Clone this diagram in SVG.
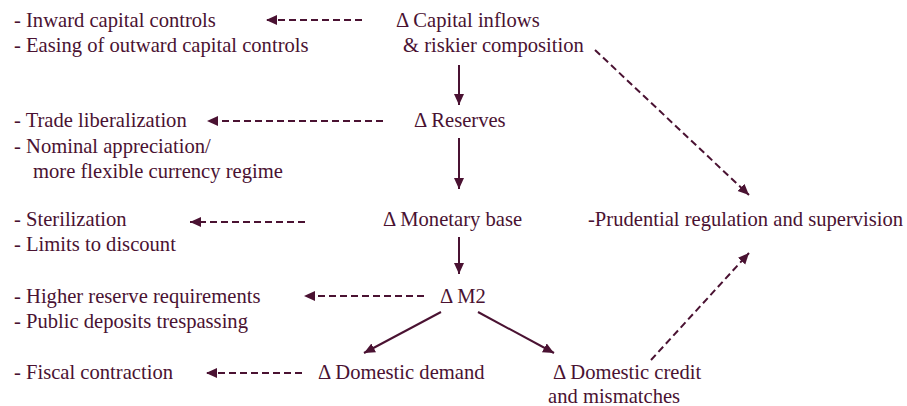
<svg xmlns="http://www.w3.org/2000/svg" width="907" height="406" viewBox="0 0 907 406">
<defs>
<style>
text{font-family:"Liberation Serif","Times New Roman",serif;font-size:20.6px;fill:#4a1232}
.ln{stroke:#4a1232;stroke-width:2;fill:none}
.dash{stroke-dasharray:7 4}
</style>
<marker id="ah" markerUnits="userSpaceOnUse" markerWidth="14" markerHeight="12" refX="11" refY="5" orient="auto">
<path d="M0,0 L11,5 L0,10 Z" fill="#4a1232"/>
</marker>
</defs>
<rect width="907" height="406" fill="#ffffff"/>
<g id="connectors">
<line class="ln dash" x1="362" y1="20" x2="266" y2="20" marker-end="url(#ah)"/>
<line class="ln dash" x1="383" y1="121" x2="207" y2="121" marker-end="url(#ah)"/>
<line class="ln dash" x1="305" y1="222" x2="190" y2="222" marker-end="url(#ah)"/>
<line class="ln dash" x1="424" y1="296" x2="304" y2="296" marker-end="url(#ah)"/>
<line class="ln dash" x1="302" y1="373" x2="206" y2="373" marker-end="url(#ah)"/>
<line class="ln" x1="459" y1="65" x2="459" y2="105" marker-end="url(#ah)"/>
<line class="ln" x1="459" y1="138" x2="459" y2="189" marker-end="url(#ah)"/>
<line class="ln" x1="459" y1="237" x2="459" y2="274" marker-end="url(#ah)"/>
<line class="ln" x1="441" y1="312" x2="364" y2="353" marker-end="url(#ah)"/>
<line class="ln" x1="478" y1="312" x2="554" y2="353" marker-end="url(#ah)"/>
<line class="ln dash" x1="595" y1="50" x2="749" y2="195" marker-end="url(#ah)"/>
<line class="ln dash" x1="651" y1="360" x2="749" y2="253" marker-end="url(#ah)"/>
</g>
<g id="capital-controls"><text x="14" y="27">- Inward capital controls</text><text x="14" y="52">- Easing of outward capital controls</text></g>
<g id="capital-inflows"><text x="396" y="27">Δ Capital inflows</text><text x="403" y="52">&amp; riskier composition</text></g>
<g id="trade"><text x="14" y="127">- Trade liberalization</text><text x="14" y="153">- Nominal appreciation/</text><text x="33" y="178">more flexible currency regime</text></g>
<g id="reserves"><text x="414" y="127">Δ Reserves</text></g>
<g id="sterilization"><text x="14" y="226">- Sterilization</text><text x="14" y="251">- Limits to discount</text></g>
<g id="monetary-base"><text x="383" y="226">Δ Monetary base</text></g>
<g id="prudential"><text x="588" y="226">-Prudential regulation and supervision</text></g>
<g id="reserve-req"><text x="14" y="303">- Higher reserve requirements</text><text x="14" y="328">- Public deposits trespassing</text></g>
<g id="m2"><text x="440" y="303">Δ M2</text></g>
<g id="fiscal"><text x="14" y="379">- Fiscal contraction</text></g>
<g id="domestic-demand"><text x="318" y="379">Δ Domestic demand</text></g>
<g id="domestic-credit"><text x="553" y="379">Δ Domestic credit</text><text x="548" y="403">and mismatches</text></g>
</svg>
